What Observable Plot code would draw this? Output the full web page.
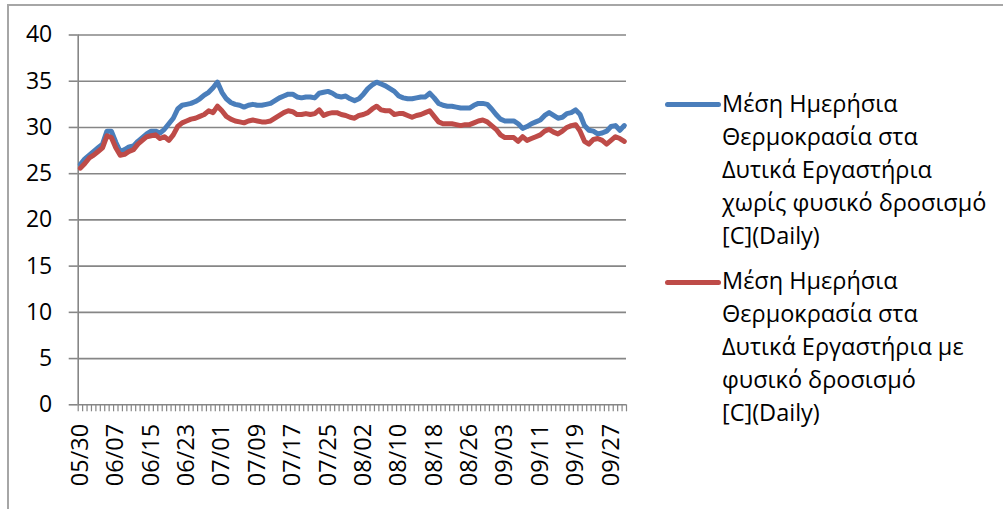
<!DOCTYPE html>
<html><head><meta charset="utf-8">
<script src="https://cdn.jsdelivr.net/npm/d3@7"></script>
<script src="https://cdn.jsdelivr.net/npm/@observablehq/plot@0.6"></script>
<style>
body{margin:0;background:#fff;font-family:"Open Sans",sans-serif;}
#wrap{position:relative;width:1003px;height:509px;overflow:hidden;background:#fff;}
#frame{position:absolute;left:7px;top:4px;width:1100px;height:600px;border:2px solid #a6a6a6;box-sizing:border-box;}
#chart{position:absolute;left:0;top:0;}
.leg{position:absolute;left:722px;font-size:23.5px;line-height:33px;color:#000;white-space:nowrap;}
.sw{position:absolute;left:665px;width:56px;height:5px;border-radius:2.5px;}
</style></head>
<body>
<div id="wrap">
  <div id="frame"></div>
  <div id="chart"></div>
  <div class="sw" id="sw1" style="top:101.5px;"></div>
  <div class="leg" id="leg1" style="top:87px;"></div>
  <div class="sw" id="sw2" style="top:279.5px;"></div>
  <div class="leg" id="leg2" style="top:264px;"></div>
</div>
<script>
// ---- data ----
const seriesNames = [
  "Μέση Ημερήσια Θερμοκρασία στα Δυτικά Εργαστήρια χωρίς φυσικό δροσισμό [C](Daily)",
  "Μέση Ημερήσια Θερμοκρασία στα Δυτικά Εργαστήρια με φυσικό δροσισμό [C](Daily)"
];
const legendLines1 = ["Μέση Ημερήσια", "Θερμοκρασία στα", "Δυτικά Εργαστήρια", "χωρίς φυσικό δροσισμό", "[C](Daily)"];
const legendLines2 = ["Μέση Ημερήσια", "Θερμοκρασία στα", "Δυτικά Εργαστήρια με", "φυσικό δροσισμό", "[C](Daily)"];
const seriesColors = ["#4A7EBB", "#BE4B48"];
const firstDay = new Date(Date.UTC(2013, 4, 30));
const dayAfterLast = new Date(Date.UTC(2013, 9, 1));
const yTicks = [0, 5, 10, 15, 20, 25, 30, 35, 40];
const labelEvery = 8;

const noCooling = [
  26.0,26.6,27.0,27.4,27.8,28.2,29.6,29.6,28.4,27.4,
  27.6,27.9,28.0,28.5,28.9,29.3,29.6,29.6,29.4,29.8,
  30.4,31.0,32.0,32.4,32.5,32.6,32.8,33.1,33.5,33.8,
  34.3,34.9,33.8,33.1,32.7,32.5,32.4,32.2,32.4,32.5,
  32.4,32.4,32.5,32.6,32.9,33.2,33.4,33.6,33.6,33.3,
  33.2,33.3,33.3,33.2,33.7,33.8,33.9,33.7,33.4,33.3,
  33.4,33.1,32.9,33.1,33.6,34.2,34.6,34.9,34.7,34.5,
  34.2,33.9,33.4,33.2,33.1,33.1,33.2,33.3,33.3,33.7,
  33.2,32.6,32.4,32.3,32.3,32.2,32.1,32.1,32.1,32.4,
  32.6,32.6,32.5,32.0,31.4,30.9,30.7,30.7,30.7,30.4,
  29.9,30.1,30.4,30.6,30.8,31.3,31.6,31.3,31.0,31.1,
  31.5,31.6,31.9,31.4,30.2,29.7,29.6,29.3,29.4,29.6,
  30.1,30.2,29.7,30.2
];
const withCooling = [
  25.6,26.1,26.7,27.0,27.4,27.8,29.1,28.9,27.8,27.0,
  27.1,27.4,27.6,28.2,28.6,29.0,29.1,29.2,28.8,29.0,
  28.6,29.2,30.1,30.5,30.7,30.9,31.0,31.2,31.4,31.8,
  31.6,32.3,31.8,31.2,30.9,30.7,30.6,30.5,30.7,30.8,
  30.7,30.6,30.6,30.7,31.0,31.3,31.6,31.8,31.7,31.4,
  31.4,31.5,31.4,31.5,31.9,31.3,31.5,31.6,31.6,31.4,
  31.3,31.1,31.0,31.3,31.4,31.6,32.0,32.3,31.9,31.8,
  31.8,31.4,31.5,31.5,31.3,31.1,31.3,31.4,31.6,31.8,
  31.2,30.6,30.4,30.4,30.4,30.3,30.2,30.3,30.3,30.5,
  30.7,30.8,30.6,30.2,29.8,29.2,28.9,28.9,28.9,28.5,
  29.0,28.6,28.8,29.0,29.2,29.6,29.8,29.5,29.3,29.6,
  30.0,30.2,30.3,29.6,28.5,28.2,28.7,28.8,28.6,28.2,
  28.6,29.0,28.8,28.5
];

// ---- build ----
const dates = d3.utcDay.range(firstDay, dayAfterLast);
const fmt = d3.utcFormat("%m/%d");
const labels = dates.map(fmt);
const rows = dates.map((d, i) => ({i, label: labels[i], a: noCooling[i], b: withCooling[i]}));
const n = dates.length;
const labelIdx = d3.range(0, n, labelEvery);
const bounds = d3.range(0, n + 1).map(k => k - 0.5);
const grid = "#868686";

const chart = Plot.plot({
  width: 1003, height: 509,
  marginLeft: 77.7, marginRight: 377, marginTop: 34.5, marginBottom: 104.7,
  style: {fontFamily: "'Open Sans', sans-serif", fontSize: "23px", color: "#000", background: "transparent", overflow: "visible"},
  x: {type: "linear", domain: [-0.5, n - 0.5], axis: null},
  y: {domain: [0, 40], axis: null},
  marks: [
    Plot.ruleY(yTicks.filter(v => v > 0), {stroke: grid, strokeWidth: 1.6}),
    Plot.ruleY([0], {stroke: grid, strokeWidth: 1.6}),
    Plot.ruleX([-0.5], {stroke: grid, strokeWidth: 1.6}),
    Plot.axisY({ticks: yTicks, tickSize: 9, tickPadding: 17, stroke: grid, strokeWidth: 1.6, fill: "#000", fontSize: 23, label: null}),
    Plot.axisX({ticks: bounds, tickSize: 7, tickFormat: () => "", stroke: grid, strokeWidth: 1.2, label: null}),
    Plot.axisX({ticks: labelIdx, tickSize: 0, tickPadding: 19, tickRotate: -90, tickFormat: i => labels[i], fill: "#000", fontSize: 23.5, label: null}),
    Plot.line(rows, {x: "i", y: "a", stroke: seriesColors[0], strokeWidth: 5, strokeLinejoin: "round", strokeLinecap: "round"}),
    Plot.line(rows, {x: "i", y: "b", stroke: seriesColors[1], strokeWidth: 5, strokeLinejoin: "round", strokeLinecap: "round"})
  ]
});
document.getElementById("chart").appendChild(chart);

document.getElementById("leg1").innerHTML = legendLines1.join("<br>");
document.getElementById("leg2").innerHTML = legendLines2.join("<br>");
document.getElementById("sw1").style.background = seriesColors[0];
document.getElementById("sw2").style.background = seriesColors[1];
</script>
</body></html>
